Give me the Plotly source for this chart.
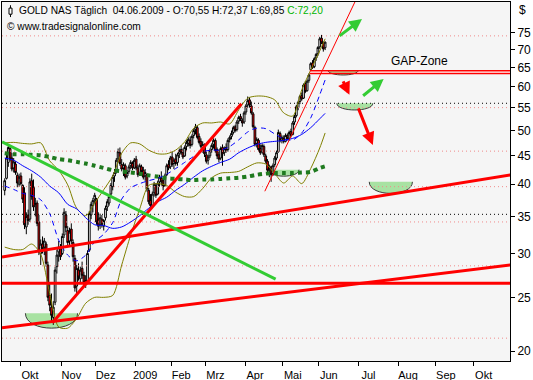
import numpy as np
import pandas as pd
import plotly.graph_objects as go

# ---------------- trading calendar ----------------
holidays = ["2008-11-27", "2008-12-25", "2009-01-01", "2009-01-19", "2009-02-16",
            "2009-04-10", "2009-05-25", "2009-07-03", "2009-09-07"]
trade_days = [d for d in pd.bdate_range("2008-09-18", "2009-06-04")
              if d.strftime("%Y-%m-%d") not in holidays]
dates = [(d + pd.Timedelta(hours=12)).strftime("%Y-%m-%d %H:%M") for d in trade_days]

# ---------------- daily OHLC ----------------
o_sep = [39.0, 41.0, 43.8, 46.4, 44.6, 42.8, 43.5, 41.5, 40.0]
h_sep = [41.0, 45.2, 47.2, 46.8, 45.6, 44.6, 44.0, 42.0, 41.8]
l_sep = [38.2, 40.8, 43.0, 44.0, 42.2, 42.0, 41.6, 39.5, 39.6]
c_sep = [40.6, 44.6, 46.6, 44.4, 42.6, 43.9, 42.0, 40.2, 41.2]

o_oct = [41.4, 39.8, 38.6, 33.5, 35.2, 34.6, 40.6, 39.5, 36.8, 37.0, 34.2, 30.0, 31.2, 30.8, 31.2, 28.6, 25.2, 24.0, 23.0, 24.5, 28.4, 30.2, 30.6]
h_oct = [42.0, 40.0, 39.5, 35.6, 36.0, 41.0, 41.8, 40.8, 37.8, 37.4, 35.2, 31.8, 32.2, 32.0, 31.5, 29.0, 26.6, 25.4, 24.6, 28.4, 30.5, 31.6, 31.2]
l_oct = [39.8, 37.0, 33.2, 32.5, 33.8, 34.2, 37.5, 35.8, 35.0, 33.6, 29.8, 28.6, 30.0, 29.8, 28.4, 24.6, 23.6, 22.6, 22.3, 24.2, 27.6, 29.0, 29.2]
c_oct = [40.1, 37.6, 33.8, 35.0, 34.4, 40.4, 38.0, 36.4, 36.9, 34.0, 30.2, 31.2, 30.6, 31.6, 28.8, 25.0, 24.2, 23.2, 24.0, 28.0, 29.8, 30.8, 29.6]

o_nov = [30.0, 32.4, 35.2, 33.0, 31.6, 33.2, 31.4, 29.4, 26.2, 28.0, 27.0, 28.2, 27.4, 26.8, 26.6, 30.4, 35.2, 36.6, 37.6]
h_nov = [32.6, 36.2, 35.8, 33.6, 33.4, 34.0, 31.8, 29.8, 28.6, 28.8, 28.4, 29.0, 27.8, 27.4, 30.4, 35.8, 37.2, 37.8, 38.6]
l_nov = [29.8, 32.0, 32.8, 30.8, 31.0, 31.2, 29.0, 25.6, 25.4, 26.8, 26.6, 27.0, 26.2, 26.0, 26.4, 30.2, 34.6, 35.6, 37.0]
c_nov = [32.2, 35.6, 33.4, 31.4, 32.8, 31.6, 29.6, 26.0, 28.2, 27.2, 28.0, 27.4, 26.6, 26.4, 30.0, 35.4, 36.8, 37.4, 38.2]

o_dec = [37.6, 34.6, 33.8, 34.6, 33.6, 34.8, 36.4, 37.0, 38.4, 39.6, 41.4, 42.2, 44.4, 45.6, 43.4, 42.8, 43.2, 41.4, 42.2, 43.2, 43.6, 42.8]
h_dec = [37.8, 35.6, 35.4, 35.2, 34.6, 36.6, 37.6, 38.4, 40.2, 41.6, 42.6, 44.6, 46.4, 46.6, 44.4, 43.8, 43.6, 42.4, 43.4, 44.2, 44.0, 44.6]
l_dec = [33.8, 33.0, 33.2, 33.4, 33.0, 34.4, 35.8, 36.6, 38.0, 39.0, 40.4, 41.8, 43.8, 43.2, 42.2, 41.4, 40.8, 41.0, 41.8, 42.6, 42.4, 42.6]
c_dec = [34.2, 33.6, 34.8, 33.8, 34.4, 36.2, 37.2, 38.0, 39.8, 41.2, 42.0, 44.2, 45.8, 43.6, 42.6, 43.4, 41.2, 42.0, 43.0, 43.8, 42.8, 44.2]

o_jan = [44.4, 42.8, 41.8, 43.0, 42.4, 41.4, 41.6, 39.0, 37.4, 36.4, 38.6, 39.8, 38.4, 40.4, 41.0, 40.6, 39.8, 41.6, 43.4, 43.0]
h_jan = [45.0, 43.4, 43.6, 43.4, 43.0, 42.6, 41.8, 39.4, 38.4, 38.8, 40.4, 40.2, 40.6, 41.6, 42.2, 41.2, 41.8, 43.6, 44.2, 45.0]
l_jan = [42.4, 41.2, 41.4, 41.8, 40.8, 40.6, 38.8, 36.8, 36.0, 36.2, 38.0, 37.8, 38.2, 39.6, 39.8, 39.0, 39.6, 41.4, 42.4, 42.6]
c_jan = [42.8, 41.6, 43.2, 42.2, 41.2, 42.0, 39.2, 37.2, 36.6, 38.4, 40.0, 38.2, 40.2, 41.2, 40.4, 39.6, 41.4, 43.2, 42.8, 44.6]

o_feb = [44.8, 43.6, 44.4, 43.8, 45.4, 46.2, 45.6, 45.0, 46.8, 47.4, 48.0, 47.2, 49.0, 50.2, 50.6, 48.8, 47.8, 46.6, 47.0]
h_feb = [45.8, 44.6, 45.4, 45.6, 46.4, 47.0, 46.4, 47.0, 48.0, 48.6, 48.8, 49.2, 50.4, 51.4, 51.0, 49.4, 48.4, 47.8, 47.4]
l_feb = [43.0, 42.6, 43.2, 43.2, 44.6, 45.2, 44.4, 44.8, 46.0, 46.8, 46.4, 46.8, 48.4, 49.2, 48.2, 47.2, 46.4, 45.6, 44.8]
c_feb = [43.4, 44.2, 43.6, 45.2, 46.0, 45.6, 44.8, 46.6, 47.6, 48.2, 47.0, 48.8, 50.0, 50.8, 48.6, 47.6, 46.8, 47.2, 45.4]

o_mar = [45.2, 44.2, 45.0, 46.2, 47.2, 48.0, 46.2, 45.2, 44.6, 46.6, 45.6, 46.6, 46.2, 48.2, 48.8, 49.6, 50.8, 50.2, 52.0, 53.0, 52.2, 51.8]
h_mar = [45.8, 45.2, 46.4, 47.4, 48.4, 48.4, 46.6, 46.2, 46.8, 47.2, 46.8, 47.4, 48.4, 49.0, 50.0, 51.0, 51.2, 52.2, 53.2, 53.6, 52.6, 54.2]
l_mar = [43.6, 43.4, 44.6, 45.6, 46.4, 45.6, 44.4, 43.8, 44.2, 43.2, 45.0, 45.6, 45.8, 47.6, 48.2, 49.2, 49.6, 49.8, 51.4, 52.0, 50.8, 51.4]
c_mar = [44.0, 44.8, 46.0, 47.0, 48.0, 46.0, 45.0, 44.4, 46.4, 45.4, 46.4, 46.0, 48.0, 48.6, 49.4, 50.6, 50.0, 51.8, 52.8, 52.4, 51.6, 53.8]

o_apr = [54.0, 55.6, 56.8, 55.4, 53.6, 50.6, 47.4, 48.0, 46.4, 45.8, 46.8, 45.0, 44.0, 42.6, 43.0, 41.8, 43.4, 44.6, 45.8, 49.4, 48.0]
h_apr = [55.8, 57.6, 57.4, 56.4, 54.0, 51.0, 48.6, 48.4, 47.2, 47.4, 47.2, 45.4, 44.4, 43.4, 43.2, 43.6, 45.0, 46.0, 50.2, 49.8, 49.0]
l_apr = [53.4, 55.0, 55.0, 53.4, 50.4, 46.8, 46.6, 45.8, 45.2, 45.4, 44.8, 43.6, 42.0, 41.2, 40.4, 41.4, 43.0, 44.2, 45.6, 47.6, 47.4]
c_apr = [55.4, 56.6, 55.6, 53.8, 50.8, 47.2, 48.2, 46.2, 45.6, 47.0, 45.2, 44.0, 42.4, 42.8, 41.6, 43.2, 44.6, 45.6, 49.6, 48.0, 48.6]

o_may = [48.4, 47.8, 49.0, 48.4, 49.8, 49.2, 51.8, 53.2, 55.0, 56.4, 57.8, 57.2, 60.8, 59.0, 61.6, 64.4, 66.2, 65.2, 67.6, 68.8]
h_may = [49.0, 49.4, 49.4, 50.0, 50.4, 52.0, 53.4, 55.6, 56.6, 58.0, 58.6, 60.8, 61.4, 61.8, 63.4, 66.4, 67.0, 67.8, 69.0, 71.0]
l_may = [47.4, 47.6, 48.0, 48.0, 48.6, 49.0, 51.2, 52.8, 54.4, 55.8, 56.6, 57.0, 58.4, 58.8, 61.0, 64.1, 64.6, 64.8, 66.8, 68.2]
c_may = [47.8, 49.0, 48.4, 49.6, 49.0, 51.6, 53.0, 55.2, 56.2, 57.6, 57.0, 60.4, 58.8, 61.4, 63.0, 66.0, 65.0, 67.4, 68.6, 70.6]

o_jun = [70.8, 73.4, 72.0, 70.55]
h_jun = [73.8, 74.4, 72.4, 72.37]
l_jun = [70.2, 71.6, 69.4, 69.85]
c_jun = [73.2, 72.0, 70.2, 72.20]

opens = o_sep + o_oct + o_nov + o_dec + o_jan + o_feb + o_mar + o_apr + o_may + o_jun
highs = h_sep + h_oct + h_nov + h_dec + h_jan + h_feb + h_mar + h_apr + h_may + h_jun
lows = l_sep + l_oct + l_nov + l_dec + l_jan + l_feb + l_mar + l_apr + l_may + l_jun
closes = c_sep + c_oct + c_nov + c_dec + c_jan + c_feb + c_mar + c_apr + c_may + c_jun
assert len(dates) == len(opens) == len(highs) == len(lows) == len(closes)

# ---------------- indicators, read weekly (every 5th bar + last) ----------------
ind_dates = [dates[i] for i in list(range(0, len(dates), 5)) + [len(dates) - 1]]
bb_upper = [47.5, 47.6, 47.4, 47.3, 47.5, 44.1, 42.4, 39.9, 36.2, 35.1, 37.0, 39.1, 41.4, 45.5, 47.5, 47.3, 46.1, 45.4, 45.4,
            46.1, 47.7, 50.5, 51.6, 51.6, 51.8, 51.4, 54.5, 57.2, 57.7, 57.6, 56.8, 53.8, 53.1, 59.2, 64.3, 69.6, 73.2]
bb_lower = [30.8, 30.5, 30.5, 31.2, 29.9, 25.4, 22.1, 22.0, 22.9, 24.4, 25.0, 25.0, 25.2, 28.6, 32.4, 36.1, 39.8, 40.1, 39.8,
            38.7, 38.0, 38.0, 39.3, 41.1, 41.9, 42.0, 42.2, 43.0, 43.7, 43.5, 41.8, 40.2, 41.4, 40.1, 42.7, 46.5, 49.5]
ma_fast = [39.7, 39.15, 38.5, 38.2, 37.5, 35.4, 31.7, 29.8, 29.1, 29.8, 31.5, 32.5, 34.1, 37.6, 39.4, 40.1, 40.6, 41.0, 41.7,
           42.7, 43.8, 44.9, 45.8, 46.1, 46.1, 46.8, 48.1, 49.7, 50.5, 50.4, 49.3, 48.3, 48.1, 49.5, 52.7, 58.0, 61.7]
ma_slow = [44.6, 44.2, 43.2, 42.3, 41.2, 39.7, 38.6, 36.8, 36.1, 34.8, 33.8, 33.7, 33.3, 33.5, 34.2, 35.1, 36.2, 37.2, 37.9,
           39.0, 40.0, 41.2, 42.3, 43.1, 43.8, 44.4, 45.6, 46.5, 47.2, 47.6, 47.8, 48.0, 48.4, 49.2, 50.6, 52.5, 53.7]
ma_long = [45.5, 45.3, 45.3, 45.2, 45.1, 44.8, 44.4, 44.2, 43.9, 43.6, 43.2, 42.8, 42.4, 42.2, 42.0, 41.8, 41.5, 41.3, 41.0,
           40.9, 40.8, 40.7, 40.8, 40.8, 40.9, 41.0, 41.1, 41.3, 41.6, 41.8, 41.9, 41.9, 41.9, 42.0, 42.1, 42.8, 43.1]

# ---------------- drawn levels and trend lines ----------------
x_start, x_end = "2008-09-17", "2009-10-30"
pink_levels = [74.1, 55.0, 45.9, 39.6, 34.2, 28.5, 21.1]
black_levels = [56.0, 35.3]
red_lines = [  # (x0, y0, x1, y1)
    ("2008-09-17", 22.04, "2009-10-30", 28.62),
    ("2008-09-17", 29.57, "2009-10-30", 41.6),
    ("2008-09-17", 26.5, "2009-10-30", 26.5),
    ("2008-10-27", 22.5, "2009-03-30", 55.9),
]
green_line = ("2008-09-17", 47.7, "2009-04-27", 26.96)
thin_red_line = ("2009-04-17", 38.85, "2009-06-30", 86.6)
gap_start = "2009-05-22"
gap_top, gap_bottom = 64.1, 63.4

bowl_left = ["2008-10-06", "2009-04-21", "2009-06-08", "2009-06-15", "2009-07-10"]
bowl_right = ["2008-11-14", "2009-05-14", "2009-07-01", "2009-07-14", "2009-08-13"]
bowl_top = [23.4, 42.5, 64.3, 56.0, 40.4]
bowl_ctrl = [21.55, 41.0, 62.55, 53.96, 37.9]

# arrows: head (date, value), tail offset in px
arrows = [
    ("2009-07-06", 79.5, -24, 18, "#33cc33"),
    ("2009-07-22", 61.95, -22, 18, "#33cc33"),
    ("2009-06-24", 58.0, -7, -15, "#ff0000"),
    ("2009-07-14", 47.1, -15, -38, "#ff0000"),
]

month_ticks = ["2008-10-01", "2008-11-03", "2008-12-01", "2009-01-02", "2009-02-02", "2009-03-02", "2009-04-01",
               "2009-05-01", "2009-06-01", "2009-07-01", "2009-08-03", "2009-09-01", "2009-10-01"]
month_labels = ["Okt", "Nov", "Dez", "2009", "Feb", "Mrz", "Apr", "Mai", "Jun", "Jul", "Aug", "Sep", "Okt"]
y_ticks = [20, 25, 30, 35, 40, 45, 50, 55, 60, 65, 70, 75]

FONT = "Liberation Sans"
fig = go.Figure()

for lv in pink_levels:
    fig.add_trace(go.Scatter(x=[x_start, x_end], y=[lv, lv], mode="lines",
                             line=dict(color="#f08a8a", width=1, dash="1px,3px"), hoverinfo="skip"))
for lv in black_levels:
    fig.add_trace(go.Scatter(x=[x_start, x_end], y=[lv, lv], mode="lines",
                             line=dict(color="#000000", width=1, dash="1px,3px"), hoverinfo="skip"))

fig.add_trace(go.Candlestick(
    x=dates, open=opens, high=highs, low=lows, close=closes,
    increasing=dict(line=dict(color="black", width=1), fillcolor="white"),
    decreasing=dict(line=dict(color="black", width=1), fillcolor="#ff0000"),
    whiskerwidth=0, hoverinfo="skip"))

fig.add_trace(go.Scatter(x=ind_dates, y=bb_upper, mode="lines", line=dict(color="#808000", width=1, shape="spline", smoothing=0.8)))
fig.add_trace(go.Scatter(x=ind_dates, y=bb_lower, mode="lines", line=dict(color="#808000", width=1, shape="spline", smoothing=0.8)))
fig.add_trace(go.Scatter(x=ind_dates, y=ma_slow, mode="lines", line=dict(color="#0000ff", width=1, shape="spline", smoothing=0.8)))
fig.add_trace(go.Scatter(x=ind_dates, y=ma_fast, mode="lines", line=dict(color="#0000ff", width=1, dash="5px,4px", shape="spline", smoothing=0.8)))
fig.add_trace(go.Scatter(x=ind_dates, y=ma_long, mode="lines", line=dict(color="#1f7a1f", width=4, dash="4px,4px", shape="spline", smoothing=0.8)))

for (x0, y0, x1, y1) in red_lines:
    fig.add_trace(go.Scatter(x=[x0, x1], y=[y0, y1], mode="lines", line=dict(color="#ff0000", width=3)))
fig.add_trace(go.Scatter(x=[green_line[0], green_line[2]], y=[green_line[1], green_line[3]], mode="lines",
                         line=dict(color="#33cc33", width=3)))
fig.add_trace(go.Scatter(x=[thin_red_line[0], thin_red_line[2]], y=[thin_red_line[1], thin_red_line[3]], mode="lines",
                         line=dict(color="#ff0000", width=1)))
fig.add_trace(go.Scatter(x=[gap_start, x_end], y=[gap_top, gap_top], mode="lines", line=dict(color="#ff0000", width=1.5)))
fig.add_trace(go.Scatter(x=[gap_start, x_end], y=[gap_bottom, gap_bottom], mode="lines", line=dict(color="#ff0000", width=1.5)))

shapes = [dict(type="rect", xref="x", yref="y", layer="below", x0=gap_start, x1=x_end, y0=gap_bottom, y1=gap_top,
               fillcolor="#ffffff", line=dict(width=0))]
for xl, xr, yt, yc in zip(bowl_left, bowl_right, bowl_top, bowl_ctrl):
    shapes.append(dict(type="path", xref="x", yref="y", layer="below",
                       path=f"M {xl},{yt} C {xl},{yc} {xr},{yc} {xr},{yt} Z",
                       fillcolor="rgb(168,226,162)", line=dict(width=0)))
    shapes.append(dict(type="path", xref="x", yref="y", layer="below",
                       path=f"M {xl},{yt} C {xl},{yc} {xr},{yc} {xr},{yt}",
                       fillcolor="rgba(0,0,0,0)", line=dict(color="#3a3a3a", width=1)))
# small candle icon in the header
shapes.append(dict(type="line", xref="paper", yref="paper", x0=0.0167, x1=0.0167, y0=0.958, y1=0.991,
                   line=dict(color="black", width=1)))
shapes.append(dict(type="rect", xref="paper", yref="paper", x0=0.0138, x1=0.0197, y0=0.966, y1=0.983,
                   fillcolor="white", line=dict(color="black", width=1)))

annotations = [
    dict(xref="paper", yref="paper", x=0.0295, y=0.975, xanchor="left", yanchor="middle", showarrow=False,
         text="GOLD NAS Täglich\u00a0\u00a004.06.2009 - O:70,55 H:72,37 L:69,85 "
              "<span style='color:#00b400'>C:72,20</span>",
         font=dict(family=FONT, size=10.2, color="black")),
    dict(xref="paper", yref="paper", x=0.006, y=0.933, xanchor="left", yanchor="middle", showarrow=False,
         text="© www.tradesignalonline.com", font=dict(family=FONT, size=10.2, color="black")),
    dict(xref="paper", yref="paper", x=1.014, y=0.978, xanchor="left", yanchor="middle", showarrow=False,
         text="$", font=dict(family=FONT, size=12, color="black")),
    dict(xref="x", yref="y", x="2009-08-19", y=np.log10(66.8), showarrow=False, text="GAP-Zone",
         font=dict(family=FONT, size=12, color="black")),
]
for (hx, hy, axp, ayp, col) in arrows:
    annotations.append(dict(xref="x", yref="y", x=hx, y=np.log10(hy), ax=axp, ay=ayp, text="",
                            showarrow=True, arrowhead=2, arrowsize=0.85, arrowwidth=3, arrowcolor=col))

fig.update_layout(
    width=533, height=380, margin=dict(l=2, r=23, t=2, b=19),
    paper_bgcolor="white", plot_bgcolor="#f5f5f5", showlegend=False,
    boxgap=0.05, boxgroupgap=0.0,
    shapes=shapes, annotations=annotations,
    font=dict(family=FONT, size=11, color="black"),
    xaxis=dict(type="date", range=["2008-09-17", "2009-10-29 04:48"],
               rangebreaks=[dict(bounds=["sat", "mon"]), dict(values=holidays)],
               rangeslider=dict(visible=False), showgrid=False, zeroline=False,
               showline=True, mirror=True, linecolor="black", linewidth=1,
               tickmode="array", tickvals=month_ticks, ticktext=month_labels,
               ticks="outside", ticklen=4, tickcolor="black", ticklabelshift=10,
               tickfont=dict(family=FONT, size=11, color="black"), automargin=False),
    yaxis=dict(type="log", range=[np.log10(19.19), np.log10(85.3)], side="right",
               showgrid=False, zeroline=False, showline=True, mirror=True, linecolor="black", linewidth=1,
               tickmode="array", tickvals=y_ticks, ticktext=[str(v) for v in y_ticks],
               ticks="outside", ticklen=4, tickcolor="black",
               tickfont=dict(family=FONT, size=12, color="black"), automargin=False),
)

fig.write_html("out.html", config={"displayModeBar": False},
               post_script="document.body.style.margin='0';document.body.style.padding='0';")
